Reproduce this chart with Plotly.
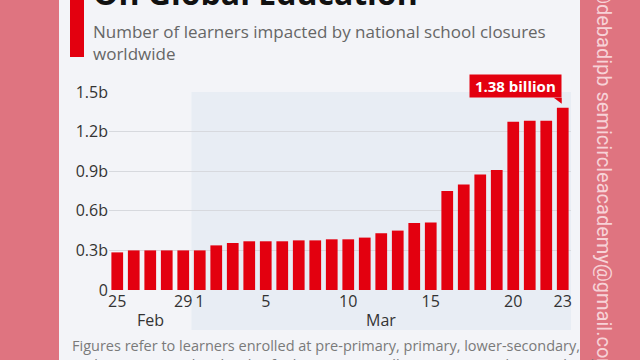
import plotly.graph_objects as go

# ---- data ----
months = ["Feb"] * 5 + ["Mar"] * 23
days = [25, 26, 27, 28, 29] + list(range(1, 24))
learners_b = [0.285, 0.30, 0.30, 0.30, 0.30,
              0.30, 0.338, 0.356, 0.369, 0.369, 0.369, 0.376, 0.376, 0.384, 0.384,
              0.397, 0.43, 0.45, 0.508, 0.511, 0.75, 0.80, 0.875, 0.91,
              1.275, 1.283, 1.283, 1.38]
tick_days_feb = [25, 29]
tick_days_mar = [1, 5, 10, 15, 20, 23]
y_ticks = [0, 0.3, 0.6, 0.9, 1.2, 1.5]
y_ticktext = ["0", "0.3b", "0.6b", "0.9b", "1.2b", "1.5b"]
peak_label = "1.38 billion"

title = "On Global Education"
subtitle = "Number of learners impacted by national school closures<br>worldwide"
footnote = ("Figures refer to learners enrolled at pre-primary, primary, lower-secondary,<br>"
            "and upper-secondary levels of education, as well as at tertiary education levels.")
watermark = "@debadipb semicircleacademy@gmail.com"

# ---- geometry helpers (figure pixel -> paper coords) ----
W, H = 640, 360
ML, MR, MT, MB = 109, 69, 92, 70
PW, PH = W - ML - MR, H - MT - MB


def px(x):
    return (x - ML) / PW


def py(y):
    return (H - MB - y) / PH


idx = list(range(len(days)))
tickvals = []
ticktext = []
for i, (m, d) in enumerate(zip(months, days)):
    if (m == "Feb" and d in tick_days_feb) or (m == "Mar" and d in tick_days_mar):
        tickvals.append(i)
        ticktext.append(str(d))

RED = "#e3000f"
PINK = "#df7480"
PANEL = "#f3f4f8"
SHADE = "#e8edf4"
TXT = "#333333"

fig = go.Figure()
fig.add_trace(go.Bar(x=idx, y=learners_b, marker=dict(color=RED, line=dict(width=0)),
                     hoverinfo="skip"))

n = len(idx)
first_mar = months.index("Mar")
shade_x0 = first_mar / n

shapes = [
    dict(type="rect", xref="paper", yref="paper", x0=px(59), x1=px(580), y0=py(365), y1=py(-5),
         fillcolor=PANEL, line=dict(width=0), layer="below"),
    dict(type="rect", xref="paper", yref="paper", x0=shade_x0, x1=1.0, y0=py(330), y1=1.0,
         fillcolor=SHADE, line=dict(width=0), layer="below"),
    dict(type="rect", xref="paper", yref="paper", x0=px(70), x1=px(84), y0=py(57), y1=py(-5),
         fillcolor=RED, line=dict(width=0), layer="below"),
    # tail of the value callout
    dict(type="path", xref="x", yref="y", xsizemode="pixel", ysizemode="pixel",
         xanchor=idx[-1], yanchor=learners_b[-1],
         path="M -9,10 L -1,10 L -1,4 Z", fillcolor=RED, line=dict(width=0)),
]

feb_idx = [i for i in idx if months[i] == "Feb"]
mar_idx = [i for i in idx if months[i] == "Mar"]

annotations = [
    dict(text="<b>" + title + "</b>", xref="paper", yref="paper", x=px(91), y=py(16),
         xanchor="left", yanchor="bottom", showarrow=False,
         font=dict(family="Open Sans", size=32, color="#111111")),
    dict(text=subtitle, xref="paper", yref="paper", x=px(91), y=py(18),
         xanchor="left", yanchor="top", showarrow=False, align="left",
         font=dict(family="Open Sans", size=17, color="#666666")),
    dict(text=footnote, xref="paper", yref="paper", x=px(70), y=py(334),
         xanchor="left", yanchor="top", showarrow=False, align="left",
         font=dict(family="Open Sans", size=14.5, color="#7a7a7a")),
    dict(text="Feb", xref="x", yref="paper", x=sum(feb_idx) / len(feb_idx), y=py(320),
         xanchor="center", yanchor="middle", showarrow=False,
         font=dict(family="Open Sans", size=16, color=TXT)),
    dict(text="Mar", xref="x", yref="paper", x=sum(mar_idx) / len(mar_idx), y=py(320),
         xanchor="center", yanchor="middle", showarrow=False,
         font=dict(family="Open Sans", size=16, color=TXT)),
    dict(text="<b>\u00a0" + peak_label + "\u00a0</b>", xref="x", yref="y",
         x=idx[-1], y=learners_b[-1], xanchor="right", yanchor="bottom",
         xshift=-1, yshift=10, showarrow=False, bgcolor=RED, borderpad=1,
         font=dict(family="Open Sans", size=15, color="#ffffff")),
    dict(text=watermark, xref="paper", yref="paper", x=px(604), y=py(-16),
         xanchor="center", yanchor="top", textangle=90, showarrow=False,
         font=dict(family="Roboto", size=20, color="#f7d2d7")),
]

fig.update_layout(
    width=W, height=H, autosize=False,
    margin=dict(l=ML, r=MR, t=MT, b=MB, pad=0),
    paper_bgcolor=PINK, plot_bgcolor="rgba(0,0,0,0)",
    showlegend=False, bargap=0.29,
    font=dict(family="Open Sans", color=TXT),
    shapes=shapes, annotations=annotations,
    xaxis=dict(range=[-0.5, n - 0.5], tickmode="array", tickvals=tickvals, ticktext=ticktext,
               showgrid=False, zeroline=False, showline=False, ticks="",
               tickfont=dict(size=16, color=TXT), fixedrange=True),
    yaxis=dict(range=[0, 1.5], tickmode="array", tickvals=y_ticks, ticktext=y_ticktext,
               showgrid=True, gridcolor="#d7d9de", gridwidth=1, zeroline=False,
               showline=False, ticks="", tickfont=dict(size=16, color=TXT),
               fixedrange=True),
)

fig.write_html("out.html", config={"displayModeBar": False},
               post_script="document.body.style.margin='0px';document.body.style.overflow='hidden';")
